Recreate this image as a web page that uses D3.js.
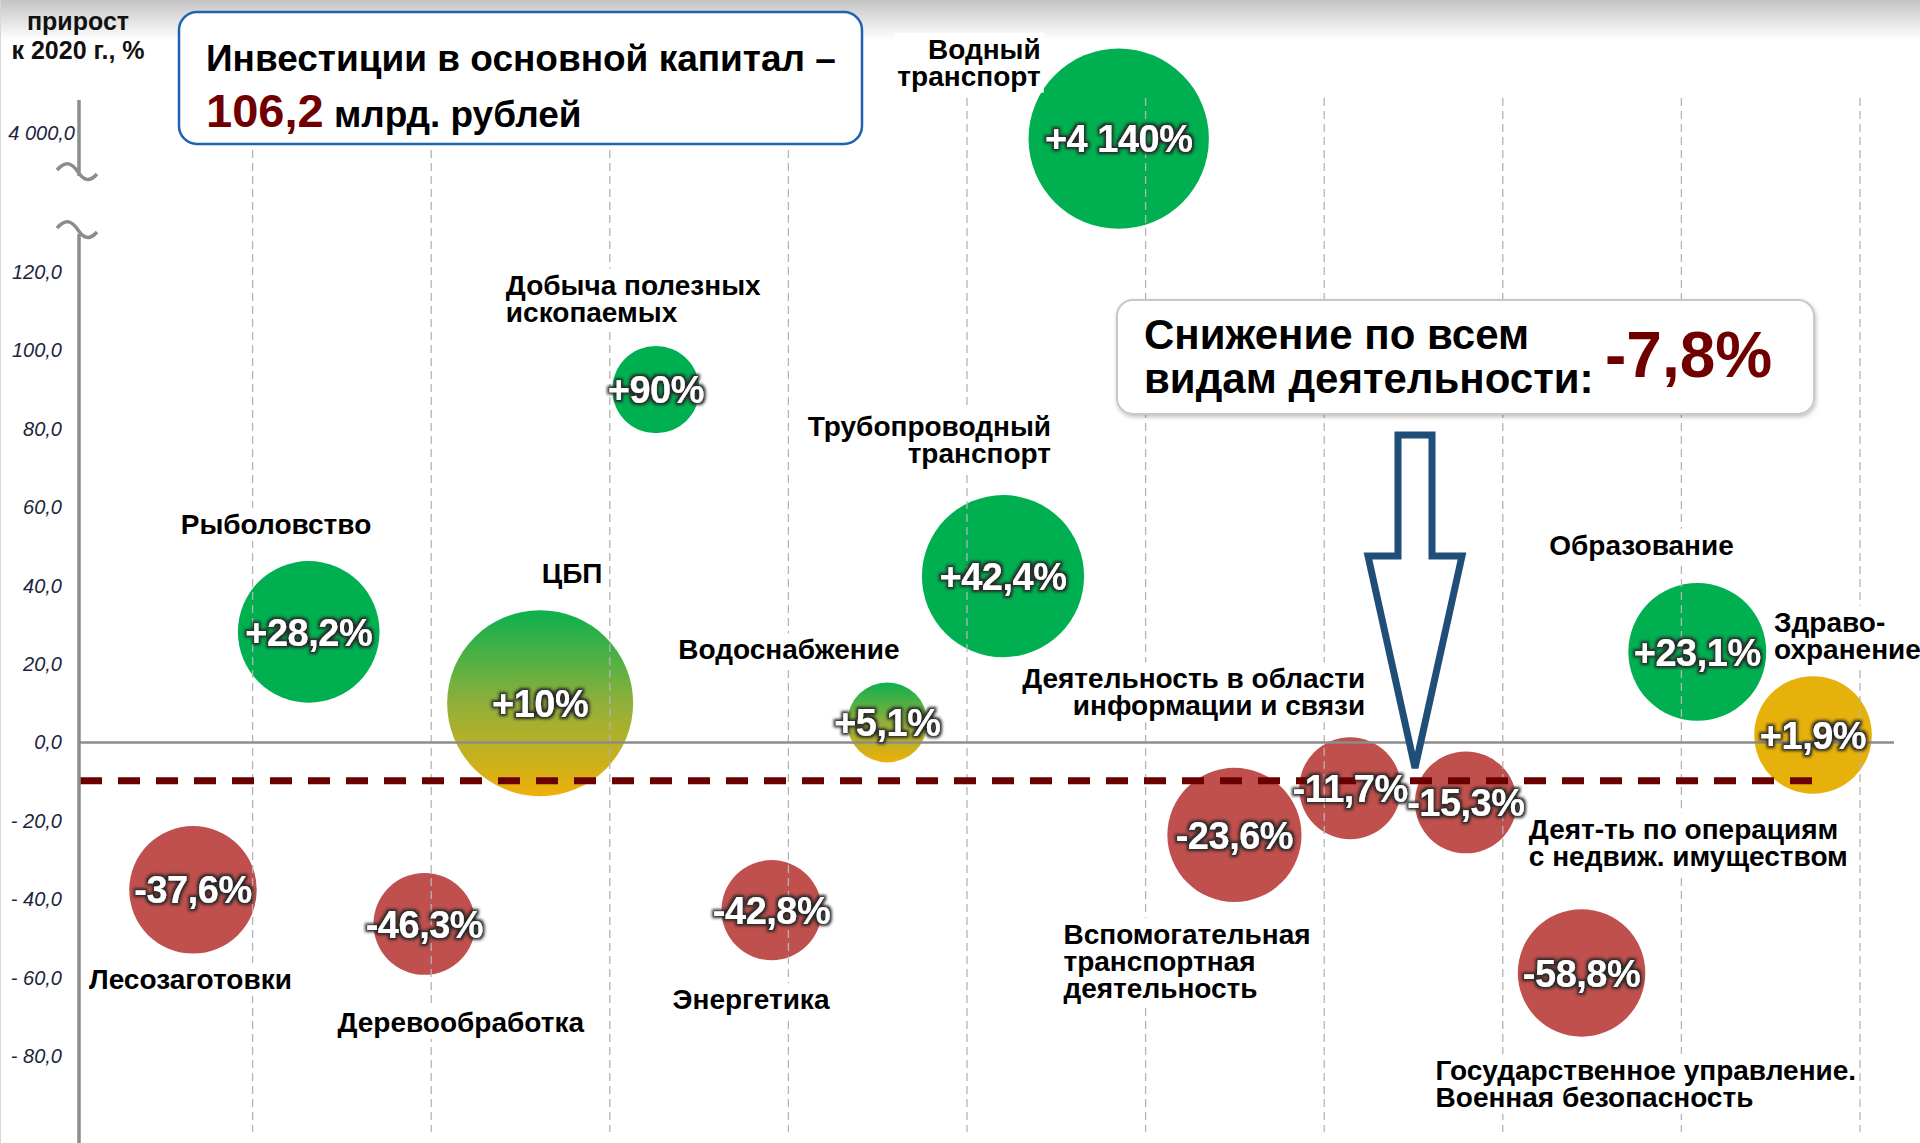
<!DOCTYPE html>
<html>
<head>
<meta charset="utf-8">
<script src="https://cdn.jsdelivr.net/npm/d3@7"></script>
<style>
  html, body { margin: 0; padding: 0; background: #fff; }
  svg { display: block; font-family: "Liberation Sans", Arial, sans-serif; }
</style>
</head>
<body>
<div id="chart"></div>
<script>
// data
const categories = [
  "Лесозаготовки", "Рыболовство", "Деревообработка", "ЦБП",
  "Добыча полезных\nископаемых", "Энергетика", "Водоснабжение",
  "Трубопроводный\nтранспорт", "Водный\nтранспорт",
  "Вспомогательная\nтранспортная\nдеятельность",
  "Деятельность в области\nинформации и связи",
  "Деят-ть по операциям\nс недвиж. имуществом",
  "Государственное управление.\nВоенная безопасность",
  "Образование", "Здраво-\nохранение"
];
const growth = [-37.6, 28.2, -46.3, 10, 90, -42.8, 5.1, 42.4, 4140, -23.6, -11.7, -15.3, -58.8, 23.1, 1.9];
// relative bubble area (ЦБП = 100)
const bubbleSize = [47, 58, 30, 100, 22, 29, 18.5, 76, 94, 52, 30, 30, 47, 55, 40];
const yTicks = [120, 100, 80, 60, 40, 20, 0, -20, -40, -60, -80];
const yTopTick = 4000;
const totalInvest = 106.2;
const avgGrowth = -7.8;
const avgLineLevel = -9.8; // where the dashed line sits in the source

let width = 1920, height = 1143;
let svg = d3.select("#chart").append("svg")
  .attr("width", width).attr("height", height);
let defs = svg.append("defs");

let loc = d3.formatLocale({decimal: ",", thousands: "\u00a0", grouping: [3], currency: ["", ""], minus: "-"});
let fmtPct = loc.format("+,~f");
let fmtTick = v => (v < 0 ? "- " : "") + loc.format(",.1f")(Math.abs(v));

// scales
let y = d3.scaleLinear().domain([-80, 120]).range([1056, 272]);
let yTop = d3.scaleLinear().domain([3800, 4400]).range([150, 130]);
let x = d3.scalePoint().domain(categories).range([193, 1813]);
let xGrid = d3.scaleLinear().domain([0, 10]).range([74, 1860]);
let r = d3.scaleSqrt().domain([0, 100]).range([0, 93]);
let yPos = v => v > 1000 ? yTop(v) : y(v);

// gradients / filters
let topGrad = defs.append("linearGradient").attr("id", "topgrad").attr("x1", 0).attr("x2", 0).attr("y1", 0).attr("y2", 1);
topGrad.append("stop").attr("offset", 0).attr("stop-color", "#c4c4c4");
topGrad.append("stop").attr("offset", 1).attr("stop-color", "#ffffff");

let mix = defs.append("linearGradient").attr("id", "mix").attr("x1", 0).attr("x2", 0).attr("y1", 0).attr("y2", 1);
mix.append("stop").attr("offset", 0).attr("stop-color", "#0cb04e");
mix.append("stop").attr("offset", 0.5).attr("stop-color", "#8fb03a");
mix.append("stop").attr("offset", 1).attr("stop-color", "#efb00a");

let glow = defs.append("filter").attr("id", "glow").attr("x", "-20%").attr("y", "-40%").attr("width", "140%").attr("height", "180%");
glow.append("feMorphology").attr("in", "SourceAlpha").attr("operator", "dilate").attr("radius", 2.2).attr("result", "d");
glow.append("feGaussianBlur").attr("in", "d").attr("stdDeviation", 1.6).attr("result", "b");
glow.append("feFlood").attr("flood-color", "#262626");
glow.append("feComposite").attr("in2", "b").attr("operator", "in").attr("result", "s");
let gm = glow.append("feMerge");
gm.append("feMergeNode").attr("in", "s");
gm.append("feMergeNode").attr("in", "SourceGraphic");

let shadow = defs.append("filter").attr("id", "shadow").attr("x", "-5%").attr("y", "-10%").attr("width", "110%").attr("height", "130%");
shadow.append("feDropShadow").attr("dx", 1).attr("dy", 2).attr("stdDeviation", 2).attr("flood-color", "#000").attr("flood-opacity", 0.25);

// background band at the top
svg.append("rect").attr("x", 0).attr("y", 0).attr("width", width).attr("height", 40).attr("fill", "url(#topgrad)");
svg.append("line").attr("x1", 0.5).attr("x2", 0.5).attr("y1", 0).attr("y2", height).attr("stroke", "#d8d8d8");

function colorOf(v) {
  if (v < 0) return "#c0504d";
  if (v < 3) return "#e6b10a";
  if (v < 20) return "url(#mix)";
  return "#00b050";
}

let data = categories.map((c, i) => ({name: c, value: growth[i], size: bubbleSize[i]}));

// bubbles
svg.append("g").selectAll("circle").data(data).enter().append("circle")
  .attr("cx", d => x(d.name))
  .attr("cy", d => yPos(d.value))
  .attr("r", d => r(d.size))
  .attr("fill", d => colorOf(d.value));

// vertical dashed grid
svg.append("g").selectAll("line").data(d3.range(1, 11)).enter().append("line")
  .attr("x1", d => xGrid(d)).attr("x2", d => xGrid(d))
  .attr("y1", 98).attr("y2", 1132)
  .attr("stroke", "#b4b4b4").attr("stroke-width", 1.3)
  .attr("stroke-dasharray", "8,5");

// zero line
svg.append("line").attr("x1", 79).attr("x2", 1894)
  .attr("y1", y(0)).attr("y2", y(0))
  .attr("stroke", "#8c8c8c").attr("stroke-width", 2.5);

// category labels: offsets from bubble centre
let labelLayout = {
  "Лесозаготовки": [-104, 99, "start"],
  "Рыболовство": [-128, -98, "start"],
  "Деревообработка": [-87, 108, "start"],
  "ЦБП": [32, -120, "middle"],
  "Добыча полезных\nископаемых": [-150, -95, "start"],
  "Энергетика": [-99, 99, "start"],
  "Водоснабжение": [-209, -63, "start"],
  "Трубопроводный\nтранспорт": [48, -140, "end"],
  "Водный\nтранспорт": [-78, -80, "end"],
  "Вспомогательная\nтранспортная\nдеятельность": [-171, 109, "start"],
  "Деятельность в области\nинформации и связи": [15, -100, "end"],
  "Деят-ть по операциям\nс недвиж. имуществом": [63, 37, "start"],
  "Государственное управление.\nВоенная безопасность": [-146, 107, "start"],
  "Образование": [-148, -97, "start"],
  "Здраво-\nохранение": [-39, -103, "start"]
};

let labels = svg.append("g");
data.forEach(d => {
  let [dx, dy, anchor] = labelLayout[d.name];
  let g = labels.append("g");
  let t = g.append("text")
    .attr("x", x(d.name) + dx).attr("y", yPos(d.value) + dy)
    .attr("text-anchor", anchor)
    .attr("font-size", 28).attr("font-weight", "bold").attr("fill", "#000");
  d.name.split("\n").forEach((line, k) => {
    t.append("tspan").attr("x", x(d.name) + dx).attr("dy", k ? 27 : 0).text(line);
  });
  let bb = t.node().getBBox();
  g.insert("rect", "text").attr("x", bb.x - 3).attr("y", bb.y - 1)
    .attr("width", bb.width + 6).attr("height", bb.height + 2).attr("fill", "#fff");
});

// average line
svg.append("line").attr("x1", 80).attr("x2", 1812)
  .attr("y1", y(avgLineLevel)).attr("y2", y(avgLineLevel))
  .attr("stroke", "#6b0000").attr("stroke-width", 7)
  .attr("stroke-dasharray", "22,16");

// down arrow
let ax = 1415;
let arrow = d3.path();
arrow.moveTo(ax - 17, 435);
arrow.lineTo(ax + 17, 435);
arrow.lineTo(ax + 17, 556);
arrow.lineTo(ax + 47, 556);
arrow.lineTo(ax, 768);
arrow.lineTo(ax - 47, 556);
arrow.lineTo(ax - 17, 556);
arrow.closePath();
svg.append("path").attr("d", arrow.toString())
  .attr("fill", "#fff").attr("stroke", "#1f4e79").attr("stroke-width", 7)
  .attr("stroke-linejoin", "miter");

// value labels
svg.append("g").selectAll("text").data(data).enter().append("text")
  .attr("x", d => x(d.name))
  .attr("y", d => yPos(d.value))
  .attr("dy", "0.36em")
  .attr("text-anchor", "middle")
  .attr("font-size", 38).attr("font-weight", "bold")
  .attr("letter-spacing", -0.5)
  .attr("fill", "#fff").attr("filter", "url(#glow)")
  .text(d => fmtPct(d.value) + "%");

// y axis with break
let axis = svg.append("g").attr("stroke", "#8c8c8c").attr("stroke-width", 3.5).attr("fill", "none");
axis.append("path").attr("d", "M79,100 L79,176 M57,170 C66,160 72,163 78,172 C84,181 90,182 97,174");
axis.append("path").attr("d", "M57,228 C66,218 72,221 78,230 C84,239 90,240 97,232 M79,234 L79,1143");

let tickG = svg.append("g").attr("font-size", 20).attr("font-style", "italic").attr("fill", "#1d2440").attr("text-anchor", "end");
tickG.selectAll("text").data(yTicks).enter().append("text")
  .attr("x", 62).attr("y", d => y(d)).attr("dy", "0.35em")
  .text(d => fmtTick(d));
tickG.append("text").attr("x", 75).attr("y", yTop(yTopTick) - 10).attr("dy", "0.35em").text(fmtTick(yTopTick));

let unit = svg.append("text").attr("text-anchor", "middle").attr("font-size", 25).attr("font-weight", "bold").attr("fill", "#111");
unit.append("tspan").attr("x", 78).attr("y", 30).text("прирост");
unit.append("tspan").attr("x", 78).attr("y", 59).text("к 2020 г., %");

// header box
svg.append("rect").attr("x", 179).attr("y", 12).attr("width", 683).attr("height", 132)
  .attr("rx", 18).attr("fill", "#fff").attr("stroke", "#1e62b4").attr("stroke-width", 2.5);
svg.append("text").attr("x", 206).attr("y", 71).attr("font-size", 37).attr("font-weight", "bold")
  .text("Инвестиции в основной капитал –");
let t2 = svg.append("text").attr("x", 206).attr("y", 127).attr("font-weight", "bold");
t2.append("tspan").attr("font-size", 47).attr("fill", "#700000").text(loc.format(",.1f")(totalInvest));
t2.append("tspan").attr("font-size", 37).attr("fill", "#000").text(" млрд. рублей");

// average box
svg.append("rect").attr("x", 1117).attr("y", 300).attr("width", 697).attr("height", 114)
  .attr("rx", 16).attr("fill", "#fff").attr("stroke", "#c8c8c8").attr("stroke-width", 2)
  .attr("filter", "url(#shadow)");
let t3 = svg.append("text").attr("font-size", 42).attr("font-weight", "bold").attr("fill", "#000");
t3.append("tspan").attr("x", 1144).attr("y", 349).text("Снижение по всем");
t3.append("tspan").attr("x", 1144).attr("y", 393).text("видам деятельности:");
svg.append("text").attr("x", 1605).attr("y", 377).attr("font-size", 64).attr("font-weight", "bold")
  .attr("fill", "#700000").text(loc.format(",.1f")(avgGrowth) + "%");
</script>
</body>
</html>
